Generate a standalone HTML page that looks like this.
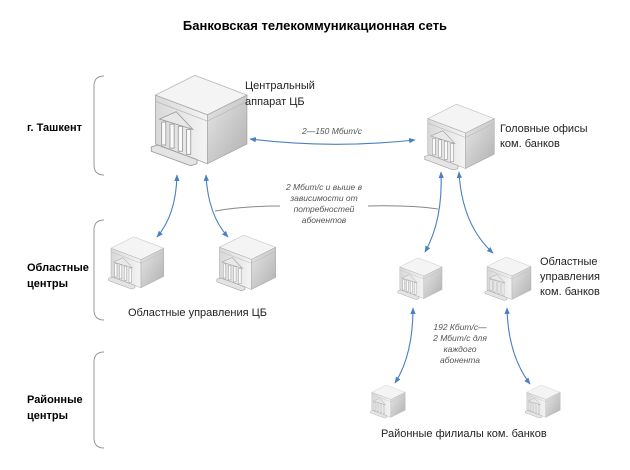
<!DOCTYPE html>
<html><head><meta charset="utf-8"><style>
body{margin:0;background:#fff}
svg{display:block}
text{font-family:"Liberation Sans",sans-serif}
</style></head><body>
<svg width="630" height="470" viewBox="0 0 630 470" xmlns="http://www.w3.org/2000/svg">
<defs>
<linearGradient id="gr" x1="0" y1="0" x2="1" y2="1"><stop offset="0" stop-color="#e6e6e6"/><stop offset="1" stop-color="#b0b0b0"/></linearGradient>
<linearGradient id="gl" x1="0" y1="0" x2="1" y2="0"><stop offset="0" stop-color="#d8d8d8"/><stop offset="1" stop-color="#f4f4f4"/></linearGradient>
<symbol id="b" viewBox="0 0 100 90">
<path d="M10,22 L48,3 L98,22 L60,41 Z" fill="#f4f4f4" stroke="#bbb" stroke-width="0.8"/>
<path d="M10,22 L60,41 L60,88 L10,69 Z" fill="url(#gl)" stroke="#aaa" stroke-width="0.8"/>
<path d="M60,41 L98,22 L98,69 L60,88 Z" fill="url(#gr)" stroke="#aaa" stroke-width="0.8"/>
<path d="M10,28 L60,47 L98,28" fill="none" stroke="#bbb" stroke-width="0.8"/>
<path d="M14,45 L30,38 L46,55 Z" fill="#e8e8e8" stroke="#999" stroke-width="0.8"/>
<g stroke="#999" stroke-width="0.8" fill="#fafafa">
<rect x="16" y="48" width="4" height="22"/><rect x="24" y="50" width="4" height="23"/><rect x="32" y="52" width="4" height="24"/><rect x="40" y="55" width="4" height="24"/>
</g>
<path d="M6,72 L12,70 L50,84 L50,88 L44,90 L6,76 Z" fill="#e4e4e4" stroke="#999" stroke-width="0.8"/>
</symbol>
<marker id="a" viewBox="0 0 10 10" refX="9" refY="5" markerWidth="6" markerHeight="6" orient="auto-start-reverse"><path d="M0,1 L10,5 L0,9 Z" fill="#4a7fc1"/></marker>
</defs>
<text x="315" y="30" text-anchor="middle" font-size="13" font-weight="bold">Банковская телекоммуникационная сеть</text>
<g fill="none" stroke="#999" stroke-width="1">
<path d="M104,76 Q94,76 94,86 L94,165 Q94,175 104,175"/>
<path d="M104,220 Q94,220 94,230 L94,310 Q94,320 104,320"/>
<path d="M104,352 Q94,352 94,362 L94,438 Q94,448 104,448"/>
</g>
<g font-size="11" font-weight="bold" fill="#000">
<text x="27" y="131">г. Ташкент</text>
<text x="27" y="271">Областные</text><text x="27" y="287">центры</text>
<text x="27" y="403">Районные</text><text x="27" y="419">центры</text>
</g>
<use href="#b" x="145" y="72" width="104" height="94"/>
<use href="#b" x="420" y="102" width="76" height="68"/>
<use href="#b" x="105" y="233" width="60" height="58"/>
<use href="#b" x="213" y="233" width="64" height="58"/>
<use href="#b" x="395" y="255" width="48" height="46"/>
<use href="#b" x="482" y="255" width="50" height="46"/>
<use href="#b" x="368" y="383" width="38" height="36"/>
<use href="#b" x="523" y="383" width="38" height="36"/>
<g font-size="11" fill="#222">
<text x="245" y="89">Центральный</text><text x="245" y="105">аппарат ЦБ</text>
<text x="500" y="132">Головные офисы</text><text x="500" y="147">ком. банков</text>
<text x="128" y="316">Областные управления ЦБ</text>
<text x="540" y="265">Областные</text><text x="540" y="280">управления</text><text x="540" y="295">ком. банков</text>
<text x="381" y="437">Районные филиалы ком. банков</text>
</g>
<g fill="none" stroke="#4a7fc1" stroke-width="1.1" marker-start="url(#a)" marker-end="url(#a)">
<path d="M250,139 Q330,149 415,140"/>
<path d="M177,175 Q176,215 157,237"/>
<path d="M206,175 Q208,215 228,237"/>
<path d="M441,172 Q443,220 425,252"/>
<path d="M459,172 Q462,225 493,253"/>
<path d="M413,308 Q413,355 395,383"/>
<path d="M507,308 Q508,355 530,384"/>
</g>
<g fill="none" stroke="#888" stroke-width="1">
<path d="M215,211 Q245,206 280,206"/>
<path d="M368,206 Q410,205 438,209"/>
</g>
<g font-size="8.5" font-style="italic" fill="#555" text-anchor="middle">
<text x="332" y="134">2—150 Мбит/с</text>
<text x="324" y="190">2 Мбит/с и выше в</text><text x="324" y="201">зависимости от</text><text x="324" y="212">потребностей</text><text x="324" y="223">абонентов</text>
<text x="460" y="330">192 Кбит/с—</text><text x="460" y="341">2 Мбит/с для</text><text x="460" y="352">каждого</text><text x="460" y="363">абонента</text>
</g>
</svg>
</body></html>
